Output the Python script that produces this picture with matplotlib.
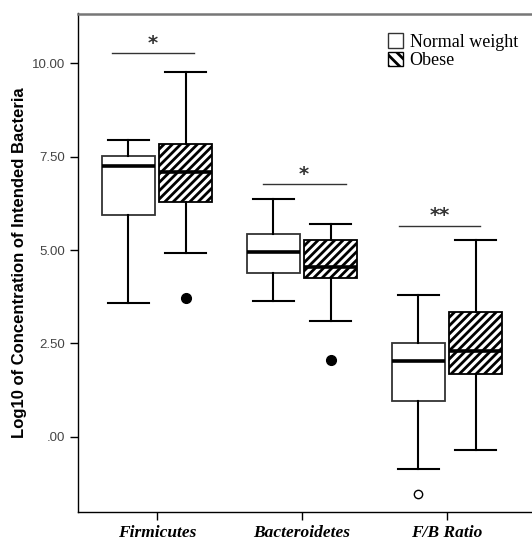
import matplotlib
matplotlib.use("Agg")
import matplotlib.pyplot as plt
from matplotlib.patches import Patch

categories = ["Firmicutes", "Bacteroidetes", "F/B Ratio"]
groups = ["Normal weight", "Obese"]

# [whisker_low, Q1, median, Q3, whisker_high]
normal_stats = [
    [3.57, 5.93, 7.26, 7.51, 7.95],
    [3.63, 4.39, 4.95, 5.42, 6.36],
    [-0.87, 0.96, 2.03, 2.51, 3.79],
]
obese_stats = [
    [4.93, 6.28, 7.10, 7.83, 9.76],
    [3.10, 4.24, 4.55, 5.28, 5.69],
    [-0.34, 1.68, 2.30, 3.33, 5.27],
]
normal_outliers = [[], [], [-1.53]]
obese_outliers = [[3.72], [2.05], []]

sig_labels = ["*", "*", "**"]
sig_heights = [10.27, 6.76, 5.65]

yticks = [0.0, 2.5, 5.0, 7.5, 10.0]
ytick_labels = [".00", "2.50", "5.00", "7.50", "10.00"]

# annotation bracket extents (relative to category centre)
sig_left = [-0.31, -0.27, -0.33]
sig_right = [0.255, 0.30, 0.23]

plt.rcParams["hatch.linewidth"] = 2.0
fig = plt.figure(figsize=(5.32, 5.40), dpi=100)
ax = fig.add_axes([0.1466, 0.052, 0.8534, 0.923])

offset = 0.197
width = 0.366

def make_stats(s, fl):
    return dict(whislo=s[0], q1=s[1], med=s[2], q3=s[3], whishi=s[4], fliers=fl)

for i in range(len(categories)):
    ax.bxp([make_stats(normal_stats[i], normal_outliers[i])], positions=[i - offset],
           widths=width, patch_artist=True, showfliers=True,
           boxprops=dict(facecolor="white", edgecolor="#333333", linewidth=1.3),
           medianprops=dict(color="black", linewidth=2.6),
           whiskerprops=dict(color="black", linewidth=1.5),
           capprops=dict(color="black", linewidth=1.5),
           capwidths=0.28,
           flierprops=dict(marker="o", markerfacecolor="white", markeredgecolor="black",
                           markersize=6, markeredgewidth=1.0))
    ax.bxp([make_stats(obese_stats[i], obese_outliers[i])], positions=[i + offset],
           widths=width, patch_artist=True, showfliers=True,
           boxprops=dict(facecolor="white", edgecolor="black", linewidth=1.3, hatch="////"),
           medianprops=dict(color="black", linewidth=2.6),
           whiskerprops=dict(color="black", linewidth=1.5),
           capprops=dict(color="black", linewidth=1.5),
           capwidths=0.28,
           flierprops=dict(marker="o", markerfacecolor="black", markeredgecolor="black",
                           markersize=7))
    x0, x1 = i + sig_left[i], i + sig_right[i]
    ax.plot([x0, x1], [sig_heights[i], sig_heights[i]], color="#333333", lw=1.0)
    ax.text((x0 + x1) / 2, sig_heights[i] + 0.27, sig_labels[i], ha="center", va="center",
            fontsize=14, fontweight="bold", color="#333333", family="DejaVu Sans")

ax.set_xlim(-0.545, 2.586)
ax.set_ylim(-2.01, 11.33)
ax.set_xticks(range(len(categories)))
ax.set_xticklabels(categories, fontsize=12.5, fontweight="bold", fontstyle="italic",
                   family="Liberation Serif")
ax.set_yticks(yticks)
ax.set_yticklabels(ytick_labels, fontsize=9.5, color="#444444", family="Liberation Sans")
ax.tick_params(axis="both", length=6, width=1.0, color="black")
ax.set_ylabel("Log10 of Concentration of Intended Bacteria", fontsize=12,
              fontweight="bold", family="Liberation Sans", labelpad=3)

ax.spines["right"].set_visible(False)
ax.spines["top"].set_color("#777777")
ax.spines["top"].set_linewidth(1.8)
ax.spines["left"].set_linewidth(1.0)
ax.spines["bottom"].set_linewidth(1.0)

handles = [Patch(facecolor="white", edgecolor="#333333", linewidth=1.0),
           Patch(facecolor="white", edgecolor="black", linewidth=1.0, hatch="\\\\\\")]
ax.legend(handles, groups, loc="upper left", bbox_to_anchor=(0.683, 0.96),
          frameon=False, prop=dict(family="Liberation Serif", size=13),
          handlelength=0.85, handleheight=0.85, handletextpad=0.35, labelspacing=0.05,
          borderaxespad=0.0, borderpad=0.0)

fig.savefig("out.png", dpi=100)
